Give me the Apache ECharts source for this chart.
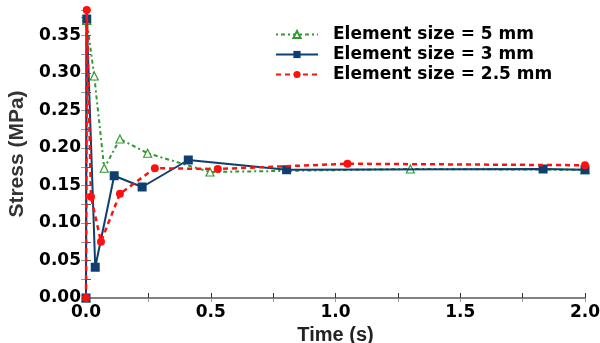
<!DOCTYPE html>
<html>
<head>
<meta charset="utf-8">
<script src="https://cdn.jsdelivr.net/npm/echarts@6/dist/echarts.min.js"></script>
<style>
  html, body { margin: 0; padding: 0; background: #fff; }
  #chart { width: 600px; height: 343px; }
</style>
</head>
<body>
<div id="chart"></div>
<script>
// [time (s), stress (MPa)]
const size5mm = [
  [0, 0], [0.003, 0.37], [0.033, 0.296], [0.073, 0.173], [0.136, 0.212],
  [0.247, 0.193], [0.497, 0.168], [1.30, 0.172], [2.0, 0.171]
];
const size3mm = [
  [0, 0], [0.003, 0.372], [0.037, 0.041], [0.113, 0.163], [0.225, 0.148],
  [0.41, 0.184], [0.804, 0.171], [1.832, 0.172], [2.0, 0.171]
];
const size25mm = [
  [0, 0], [0.003, 0.384], [0.02, 0.135], [0.06, 0.075], [0.136, 0.139],
  [0.276, 0.173], [0.528, 0.172], [1.048, 0.179], [2.0, 0.177]
];
const seriesNames = ["Element size = 5 mm", "Element size = 3 mm", "Element size = 2.5 mm"];
const xTicks = [0, 0.5, 1.0, 1.5, 2.0];
const yTicks = [0, 0.05, 0.10, 0.15, 0.20, 0.25, 0.30, 0.35];

const chart = echarts.init(document.getElementById("chart"));

const near = (v, list) => list.some(t => Math.abs(t - v) < 1e-6);

const tickFont = {
  color: "#000",
  fontFamily: "DejaVu Sans",
  fontWeight: "bold",
  fontSize: 17
};

const option = {
  animation: false,
  backgroundColor: "#fff",
  grid: { left: 86, right: 15, top: 10, bottom: 45, outerBoundsMode: "none", containLabel: false },
  legend: {
    left: 270,
    top: 21,
    orient: "vertical",
    itemGap: 3,
    itemWidth: 42,
    itemHeight: 9,
    backgroundColor: "#fff",
    textStyle: {
      color: "#000",
      fontFamily: "DejaVu Sans",
      fontWeight: "bold",
      fontSize: 17,
      padding: [0, 0, 0, 10]
    },
    data: seriesNames
  },
  xAxis: [
    {
      type: "value",
      min: 0,
      max: 2,
      interval: 0.25,
      name: "Time (s)",
      nameLocation: "middle",
      nameGap: 27,
      nameTextStyle: { color: "#222", fontFamily: "Liberation Sans", fontWeight: "bold", fontSize: 20 },
      axisLine: { lineStyle: { color: "#000", width: 1.5 } },
      axisTick: { inside: true, length: 5, lineStyle: { color: "#333" } },
      axisLabel: {
        ...tickFont,
        margin: 6,
        formatter: v => (near(v, xTicks) ? v.toFixed(1) : "")
      },
      splitLine: { show: false }
    },
    {
      type: "value",
      position: "top",
      min: 0,
      max: 2,
      interval: 0.25,
      axisLine: { show: true, lineStyle: { color: "#999", width: 1.5 } },
      axisTick: { inside: true, length: 4, lineStyle: { color: "#999" } },
      axisLabel: { show: false },
      splitLine: { show: false }
    }
  ],
  yAxis: [
    {
      type: "value",
      min: 0,
      max: 0.384,
      interval: 0.025,
      name: "Stress (MPa)",
      nameLocation: "middle",
      nameGap: 56,
      nameTextStyle: { color: "#333", fontFamily: "Liberation Sans", fontWeight: "bold", fontSize: 21 },
      axisLine: { show: true, lineStyle: { color: "#555", width: 1.5 } },
      axisTick: { inside: true, length: 5, lineStyle: { color: "#555" } },
      axisLabel: {
        ...tickFont,
        margin: 5,
        formatter: v => (near(v, yTicks) ? v.toFixed(2) : "")
      },
      splitLine: { show: false }
    },
    {
      type: "value",
      position: "right",
      min: 0,
      max: 0.384,
      interval: 0.025,
      axisLine: { show: true, lineStyle: { color: "#999", width: 1.5 } },
      axisTick: { inside: true, length: 5, lineStyle: { color: "#999" } },
      axisLabel: { show: false },
      splitLine: { show: false }
    }
  ],
  series: [
    {
      name: seriesNames[0],
      type: "line",
      data: size5mm,
      symbol: "triangle",
      symbolSize: 8,
      lineStyle: { color: "#2f9a2f", width: 2, type: [2, 3, 4, 3] },
      itemStyle: { color: "#fff", borderColor: "#2f9a2f", borderWidth: 1.2 },
      z: 2
    },
    {
      name: seriesNames[1],
      type: "line",
      data: size3mm,
      symbol: "rect",
      symbolSize: 9,
      lineStyle: { color: "#0e3f70", width: 2 },
      itemStyle: { color: "#0e3f70" },
      z: 3
    },
    {
      name: seriesNames[2],
      type: "line",
      data: size25mm,
      symbol: "circle",
      symbolSize: 8,
      lineStyle: { color: "#ff1010", width: 2.5, type: [5, 4] },
      itemStyle: { color: "#ff1010" },
      z: 4
    }
  ]
};

chart.setOption(option);
</script>
</body>
</html>
